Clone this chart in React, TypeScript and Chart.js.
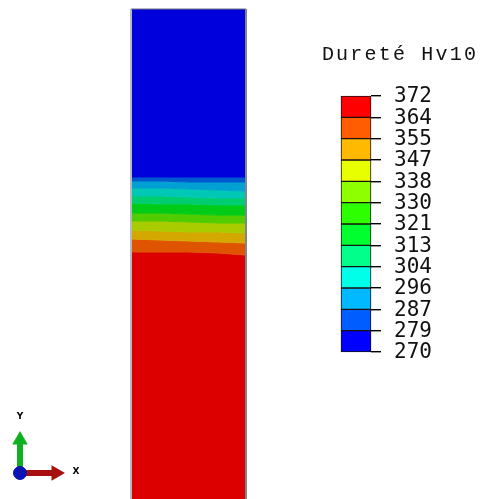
import React, { useEffect, useRef } from "react";
import { Chart, registerables } from "chart.js";

Chart.register(...registerables);

// Legend: band edges in Hv10 and their colours (low to high)
const legendEdges = [270, 278.5, 287, 295.5, 304, 312.5, 321, 329.5, 338, 346.5, 355, 363.5, 372];
const legendColors = ["#0000ff", "#005dff", "#00b9ff", "#00ffe8", "#00ff8b", "#00ff2e", "#2eff00", "#8dff00", "#e8ff00", "#ffb900", "#ff5d00", "#ff0000"];
const legendTitle = "Dureté Hv10";

// Specimen: contour boundaries sampled across the column width
const columnX = [132, 160, 189, 218, 245];
const bandBoundaries = [
  [9, 9, 9, 9, 9],
  [177, 177, 177, 177, 177],
  [181, 181, 182, 182, 182],
  [188, 188, 189, 190, 191],
  [196, 196, 197, 198, 198],
  [203, 204, 204, 205, 205],
  [213, 213, 214, 215, 215],
  [221, 221, 222, 223, 223],
  [230, 231, 232, 232, 233],
  [239, 240, 241, 242, 243],
  [252, 252, 252, 253, 255],
  [499, 499, 499, 499, 499],
];
const bandColors = ["#0000dc", "#0058cf", "#00a0d2", "#00c8b4", "#00cc70", "#00cc18", "#50cc00", "#a8cc00", "#d4a800", "#de5400", "#dc0000"];

// Triad axes, in the same layout units as the specimen
const triadOrigin = { x: 20, y: 473 };
const triadYEnd = { x: 20, y: 440 };
const triadXEnd = { x: 56, y: 473 };

const texts = [
  { label: legendTitle, x: 400, y: 55, font: "20px 'Liberation Mono'", spacing: "2.2px", color: "#111" },
  { label: "Y", x: 20, y: 417, font: "bold 9px 'DejaVu Sans'", spacing: "0px", color: "#000" },
  { label: "X", x: 76, y: 472, font: "bold 9px 'DejaVu Sans'", spacing: "0px", color: "#000" },
];

const textPlugin = {
  id: "figureText",
  afterDraw(chart: any) {
    const ctx = chart.ctx;
    ctx.save();
    ctx.textAlign = "center";
    ctx.textBaseline = "middle";
    for (const t of texts) {
      ctx.font = t.font;
      ctx.fillStyle = t.color;
      (ctx as any).letterSpacing = t.spacing;
      ctx.fillText(t.label, chart.scales.x.getPixelForValue(t.x), chart.scales.y.getPixelForValue(t.y));
    }
    ctx.restore();
  },
};

const noLayoutSpace = (s: any) => {
  s.width = 0;
  s.paddingTop = 0;
  s.paddingBottom = 0;
  s.paddingLeft = 0;
  s.paddingRight = 0;
};

export default function App() {
  const ref = useRef<HTMLCanvasElement>(null);
  useEffect(() => {
    document.body.style.margin = "0";
    const bandDatasets = bandBoundaries.map((b, i) => ({
      type: "scatter" as const,
      showLine: true,
      data: b.map((y, k) => ({ x: columnX[k], y })),
      xAxisID: "x",
      yAxisID: "y",
      pointRadius: 0,
      borderWidth: i === 0 || i === bandBoundaries.length - 1 ? 0 : 1,
      borderColor: i > 0 ? bandColors[i - 1] : "rgba(0,0,0,0)",
      backgroundColor: i > 0 ? bandColors[i - 1] : "rgba(0,0,0,0)",
      fill: i > 0 ? "-1" : false,
      order: 5,
    }));
    const legendBars = {
      type: "bar" as const,
      data: legendColors.map((_, i) => ({ x: 356, y: [legendEdges[i], legendEdges[i + 1]] })),
      xAxisID: "x",
      yAxisID: "yLegend",
      backgroundColor: legendColors,
      borderColor: "#1a1010",
      borderWidth: 1,
      borderSkipped: false,
      barThickness: 30,
      order: 6,
    };
    const frame = {
      type: "scatter" as const,
      showLine: true,
      data: [
        { x: 131, y: 499 },
        { x: 131, y: 9 },
        { x: 246, y: 9 },
        { x: 246, y: 499 },
      ],
      xAxisID: "x",
      yAxisID: "y",
      pointRadius: 0,
      borderColor: "#6f7480",
      borderWidth: 1,
      fill: false,
      order: 1,
    };
    const arrow = (end: { x: number; y: number }, color: string, rot: number) => ({
      type: "scatter" as const,
      showLine: true,
      data: [triadOrigin, end],
      xAxisID: "x",
      yAxisID: "y",
      borderColor: color,
      borderWidth: 6,
      pointStyle: "triangle",
      pointRadius: [0, 9],
      pointRotation: rot,
      pointBackgroundColor: color,
      pointBorderColor: color,
      pointBorderWidth: 0,
      fill: false,
      order: 1,
    });
    const dot = {
      type: "scatter" as const,
      showLine: false,
      data: [triadOrigin],
      xAxisID: "x",
      yAxisID: "y",
      pointRadius: 6.5,
      pointBackgroundColor: "#0a14b4",
      pointBorderColor: "#0a14b4",
      order: 0,
    };
    const chart = new Chart(ref.current!, {
      data: {
        datasets: [...bandDatasets, legendBars, frame, arrow(triadXEnd, "#a81010", 90), arrow(triadYEnd, "#10b020", 0), dot] as any,
      },
      plugins: [textPlugin],
      options: {
        animation: false,
        responsive: false,
        layout: { padding: 0, autoPadding: false },
        plugins: { legend: { display: false }, tooltip: { enabled: false } },
        scales: {
          x: { type: "linear", min: 0, max: 481, display: false, offset: false },
          y: { type: "linear", min: 0, max: 499, reverse: true, display: false },
          yLegend: { type: "linear", min: 211.43, max: 410.25, display: false },
          yTicks: {
            type: "linear",
            min: 211.43,
            max: 410.25,
            position: { x: 381 },
            border: { display: false },
            grid: { drawOnChartArea: false, drawTicks: true, tickLength: 10, color: "#000", lineWidth: 1.4 },
            ticks: { display: false },
            afterBuildTicks: (s: any) => { s.ticks = legendEdges.map((value) => ({ value })); },
            afterFit: noLayoutSpace,
          },
          yLabels: {
            type: "linear",
            min: 211.83,
            max: 410.65,
            position: { x: 432 },
            border: { display: false },
            grid: { display: false },
            ticks: {
              color: "#111",
              padding: 0,
              autoSkip: false,
              font: { family: "'DejaVu Sans Mono'", size: 21 },
              callback: (v: any) => String(Math.round(Number(v))),
            },
            afterBuildTicks: (s: any) => { s.ticks = legendEdges.map((value) => ({ value })); },
            afterFit: noLayoutSpace,
          },
        },
      } as any,
    });
    return () => chart.destroy();
  }, []);
  return <canvas ref={ref} width={481} height={499} style={{ display: "block", width: 481, height: 499 }} />;
}
